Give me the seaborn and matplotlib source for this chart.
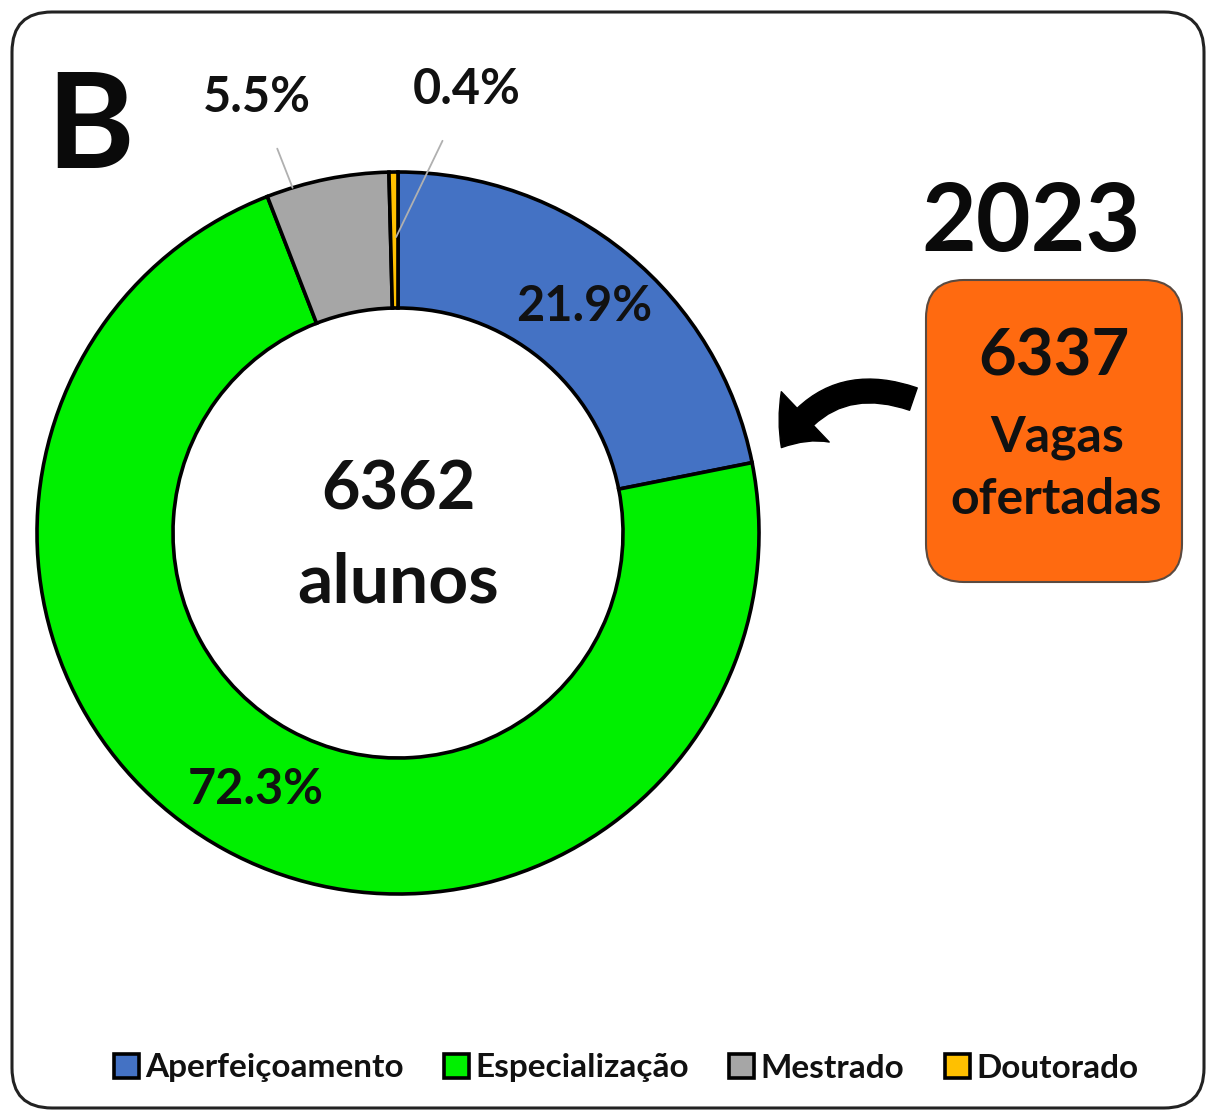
import matplotlib
matplotlib.use("Agg")
import numpy as np
import matplotlib.pyplot as plt
import seaborn as sns
from matplotlib.patches import FancyBboxPatch, FancyArrowPatch

# ---- data ----
categories = ["Aperfeiçoamento", "Especialização", "Mestrado", "Doutorado"]
shares = [21.9, 72.3, 5.5, 0.4]
slice_colors = ["#4472C4", "#00F000", "#A6A6A6", "#FFC000"]
panel_letter = "B"
year_label = "2023"
total_students = 6362
students_word = "alunos"
offered_seats = 6337
seats_lines = ["Vagas", "ofertadas"]

sns.set_theme(style="white")
plt.rcParams["font.family"] = ["Lato", "DejaVu Sans"]
plt.rcParams["font.weight"] = "bold"

W, H = 1216, 1120
fig = plt.figure(figsize=(W / 100, H / 100), dpi=100)
ax = fig.add_axes([0, 0, 1, 1])

cx, cy = 398, H - 533
R, ring = 361, 136

wedges, _ = ax.pie(
    shares, colors=slice_colors, startangle=90, counterclock=False,
    radius=R, center=(cx, cy),
    wedgeprops=dict(width=ring, edgecolor="black", linewidth=2.6),
)
ax.set_xlim(0, W)
ax.set_ylim(0, H)
ax.set_aspect("equal")
ax.axis("off")

# slice mid-angles (degrees, measured counterclockwise from +x)
bounds = 90 - 3.6 * np.concatenate([[0], np.cumsum(shares)])
mids = (bounds[:-1] + bounds[1:]) / 2

# labels inside the ring for the two large slices
for i in (0, 1):
    a = np.deg2rad(mids[i])
    r = R - ring / 2
    ax.text(cx + r * np.cos(a), cy + r * np.sin(a), f"{shares[i]:.1f}%",
            ha="center", va="center", fontsize=35, fontweight="bold",
            color="#111111")

# outside labels with leader lines for the two small slices
outside = {2: ((257, H - 97), R, 6.0), 3: ((467, H - 90), R - 65, 0.0)}
for i, (txt_xy, r, da) in outside.items():
    a = np.deg2rad(mids[i] + da)
    ax.annotate(f"{shares[i]:.1f}%", xy=(cx + r * np.cos(a), cy + r * np.sin(a)),
                xytext=txt_xy, ha="center", va="center", fontsize=35,
                fontweight="bold", color="#111111",
                arrowprops=dict(arrowstyle="-", color="#B0B0B0", lw=1.3,
                                shrinkA=20, shrinkB=0))

# centre text
ax.text(cx, cy + 42, f"{total_students}", ha="center", va="center",
        fontsize=48, fontweight="bold", color="#111111")
ax.text(cx, cy - 50, students_word, ha="center", va="center",
        fontsize=50, fontweight="bold", color="#111111")

# panel letter and year
ax.text(90, H - 130, panel_letter, ha="center", va="center",
        fontsize=96, fontweight="bold", color="#0a0a0a")
ax.text(1031, H - 224, year_label, ha="center", va="center",
        fontsize=68, fontweight="bold", color="#0a0a0a")

# orange callout box
box = FancyBboxPatch((926, H - 582), 256, 302,
                     boxstyle="round,pad=0,rounding_size=38",
                     facecolor="#FF6A10", edgecolor="#5a4a40", linewidth=1.5)
ax.add_patch(box)
ax.text(1054, H - 357, f"{offered_seats}", ha="center", va="center",
        fontsize=47, fontweight="bold", color="#111111")
ax.text(1057, H - 437, seats_lines[0], ha="center", va="center",
        fontsize=36, fontweight="bold", color="#111111")
ax.text(1056, H - 500, seats_lines[1], ha="center", va="center",
        fontsize=36, fontweight="bold", color="#111111")

# curved arrow from the box toward the ring
arrow = FancyArrowPatch((916, H - 400), (780, H - 450),
                        connectionstyle="arc3,rad=0.42",
                        arrowstyle="simple,head_length=28,head_width=50,tail_width=17",
                        mutation_scale=1, color="black")
ax.add_patch(arrow)

# outer rounded frame
frame = FancyBboxPatch((12, 12), W - 24, H - 24,
                       boxstyle="round,pad=0,rounding_size=40",
                       facecolor="none", edgecolor="#222222", linewidth=2.2)
ax.add_patch(frame)

# legend
leg = ax.legend(wedges, categories, ncol=4, loc="center",
                bbox_to_anchor=(626 / W, (H - 1068) / H),
                bbox_transform=fig.transFigure, frameon=False,
                prop=dict(family=["Lato", "DejaVu Sans"], weight="bold", size=24),
                handlelength=0.75, handleheight=0.75, handletextpad=0.2,
                columnspacing=1.2)
for t in leg.get_texts():
    t.set_color("#111111")

fig.savefig("out.png", dpi=100)
